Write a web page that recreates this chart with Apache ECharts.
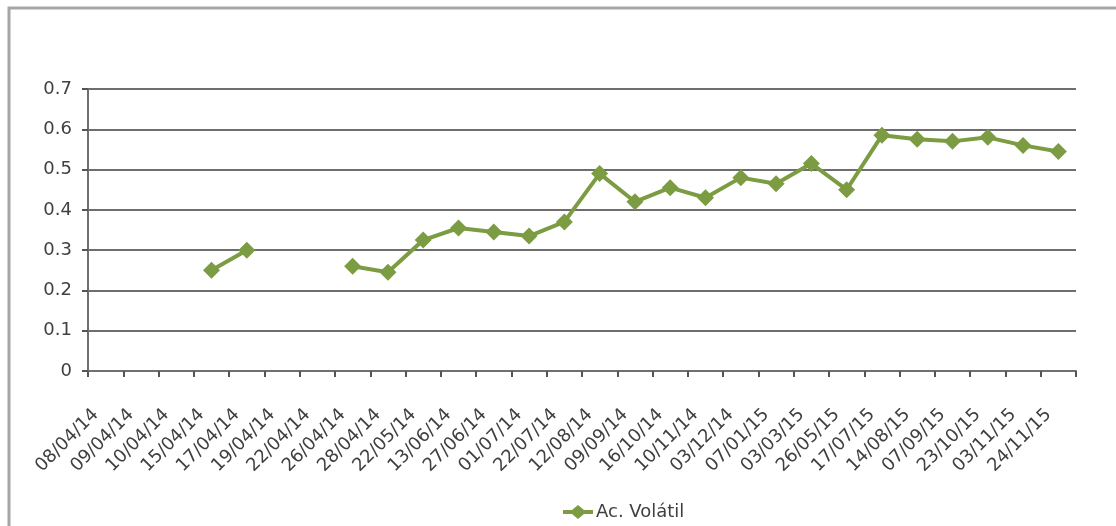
<!DOCTYPE html>
<html>
<head>
<meta charset="utf-8">
<script src="https://cdn.jsdelivr.net/npm/echarts@6/dist/echarts.min.js"></script>
<style>
  html, body { margin: 0; padding: 0; background: #fff; }
  #chart { width: 1116px; height: 526px; }
</style>
</head>
<body>
<div id="chart"></div>
<script>
// Fechas de observación (eje de categorías)
const dates = [
  '08/04/14', '09/04/14', '10/04/14', '15/04/14', '17/04/14', '19/04/14', '22/04/14',
  '26/04/14', '28/04/14', '22/05/14', '13/06/14', '27/06/14', '01/07/14', '22/07/14',
  '12/08/14', '09/09/14', '16/10/14', '10/11/14', '03/12/14', '07/01/15', '03/03/15',
  '26/05/15', '17/07/15', '14/08/15', '07/09/15', '23/10/15', '03/11/15', '24/11/15'
];

// Serie "Ac. Volátil" (null = sin dato)
const acVolatil = [
  null, null, null, 0.25, 0.30, null, null,
  0.26, 0.245, 0.325, 0.355, 0.345, 0.335, 0.37,
  0.49, 0.42, 0.455, 0.43, 0.48, 0.465, 0.515,
  0.45, 0.585, 0.575, 0.57, 0.58, 0.56, 0.545
];

const seriesName = 'Ac. Volátil';
const green = '#7b9c42';
const font = '"DejaVu Sans", "Open Sans", sans-serif';
const textColor = '#404040';

const chart = echarts.init(document.getElementById('chart'), null, { renderer: 'canvas' });
chart.setOption({
  animation: false,
  backgroundColor: '#fff',
  graphic: [{
    type: 'rect',
    shape: { x: 9, y: 8, width: 1200, height: 600 },
    style: { fill: 'none', stroke: '#a6a6a6', lineWidth: 3 },
    silent: true
  }],
  grid: { left: 88, right: 40, top: 89, bottom: 155, containLabel: false },
  legend: {
    bottom: 0,
    left: 558,
    itemWidth: 30,
    itemHeight: 14,
    itemGap: 4,
    textStyle: { fontFamily: font, fontSize: 18, color: textColor, padding: [0, 0, 0, -2] },
    data: [{
      name: seriesName,
      icon: 'path://M0,5 L9,5 L15,0 L21,5 L30,5 L30,9 L21,9 L15,14 L9,9 L0,9 Z'
    }]
  },
  xAxis: {
    type: 'category',
    data: dates,
    boundaryGap: true,
    axisLine: { lineStyle: { color: '#707070', width: 2 } },
    axisTick: { show: true, inside: false, length: 6, interval: 0, lineStyle: { color: '#555', width: 2 } },
    axisLabel: {
      interval: 0,
      rotate: 45,
      margin: 31,
      padding: [0, 14, 0, 0],
      fontFamily: font,
      fontSize: 18,
      color: textColor
    },
    splitLine: { show: false }
  },
  yAxis: {
    type: 'value',
    min: 0,
    max: 0.7,
    interval: 0.1,
    axisLine: { show: true, lineStyle: { color: '#707070', width: 2 } },
    axisTick: { show: true, length: 6, lineStyle: { color: '#555', width: 2 } },
    axisLabel: {
      fontFamily: font,
      fontSize: 18,
      color: textColor,
      margin: 16,
      formatter: v => (Math.round(v * 10) / 10).toString()
    },
    splitLine: { show: true, lineStyle: { color: '#6e6e6e', width: 2 } }
  },
  series: [
    {
      name: seriesName,
      type: 'line',
      data: acVolatil,
      connectNulls: false,
      symbol: 'diamond',
      symbolSize: 17,
      showAllSymbol: true,
      lineStyle: { color: green, width: 4 },
      itemStyle: { color: green },
      emphasis: { disabled: true }
    },
    {
      // borde derecho del área de trazado
      type: 'line',
      data: [],
      markLine: {
        silent: true,
        symbol: 'none',
        label: { show: false },
        lineStyle: { color: '#c8c8c8', width: 2, type: 'solid' },
        data: [[{ xAxis: dates.length - 0.5, yAxis: 0 }, { xAxis: dates.length - 0.5, yAxis: 0.7 }]]
      }
    }
  ]
});
</script>
</body>
</html>
